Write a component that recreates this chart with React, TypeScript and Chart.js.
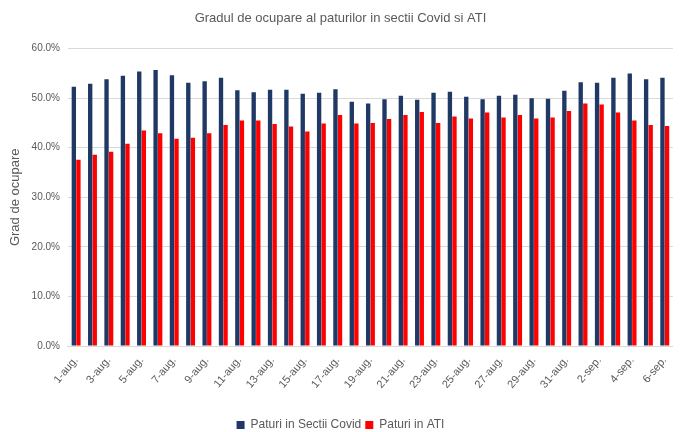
import React, { useEffect, useRef } from "react";
import { Chart, registerables } from "chart.js";

Chart.register(...registerables);

const days: string[] = [
  "1-aug.", "2-aug.", "3-aug.", "4-aug.", "5-aug.", "6-aug.", "7-aug.", "8-aug.", "9-aug.", "10-aug.",
  "11-aug.", "12-aug.", "13-aug.", "14-aug.", "15-aug.", "16-aug.", "17-aug.", "18-aug.", "19-aug.", "20-aug.",
  "21-aug.", "22-aug.", "23-aug.", "24-aug.", "25-aug.", "26-aug.", "27-aug.", "28-aug.", "29-aug.", "30-aug.",
  "31-aug.", "1-sep.", "2-sep.", "3-sep.", "4-sep.", "5-sep.", "6-sep.",
];

const covidBeds: number[] = [
  52.3, 52.9, 53.8, 54.5, 55.4, 55.7, 54.6, 53.1, 53.4, 54.1,
  51.6, 51.2, 51.7, 51.7, 50.9, 51.1, 51.8, 49.3, 48.9, 49.8,
  50.5, 49.7, 51.1, 51.3, 50.3, 49.8, 50.5, 50.7, 50.0, 49.9,
  51.5, 53.2, 53.1, 54.1, 55.0, 53.8, 54.1,
];

const atiBeds: number[] = [
  37.6, 38.6, 39.2, 40.8, 43.5, 42.9, 41.8, 42.0, 42.9, 44.6,
  45.5, 45.5, 44.8, 44.3, 43.3, 44.9, 46.6, 44.9, 45.0, 45.8,
  46.6, 47.2, 45.0, 46.3, 45.9, 47.1, 46.1, 46.6, 45.9, 46.1,
  47.4, 48.9, 48.7, 47.1, 45.5, 44.6, 44.4,
];

const yTicks: number[] = [0, 10, 20, 30, 40, 50, 60];

const FONT = "'Liberation Sans', 'DejaVu Sans', sans-serif";
const TEXT = "#595959";

export default function App() {
  const ref = useRef<HTMLCanvasElement | null>(null);

  useEffect(() => {
    if (!ref.current) return;
    const chart = new Chart(ref.current, {
      type: "bar",
      data: {
        labels: days,
        datasets: [
          {
            label: "Paturi in Sectii Covid",
            data: covidBeds,
            backgroundColor: "#1F3864",
            borderWidth: 0,
            barPercentage: 0.95,
            categoryPercentage: 0.56,
          },
          {
            label: "Paturi in ATI",
            data: atiBeds,
            backgroundColor: "#FF0000",
            borderWidth: 0,
            barPercentage: 0.95,
            categoryPercentage: 0.56,
          },
        ],
      },
      options: {
        responsive: false,
        animation: false,
        layout: { padding: { left: 8, right: 10, top: 6, bottom: -9 } },
        plugins: {
          title: {
            display: true,
            text: "Gradul de ocupare al paturilor in sectii Covid si ATI",
            color: TEXT,
            font: { family: FONT, size: 13, weight: "normal" },
            padding: { top: 5, bottom: 22 },
          },
          legend: {
            position: "bottom",
            labels: {
              color: TEXT,
              font: { family: FONT, size: 12 },
              boxWidth: 8,
              boxHeight: 8,
              padding: 4,
            },
          },
          tooltip: { enabled: false },
        },
        scales: {
          x: {
            grid: { display: false, drawTicks: false },
            border: { color: "#D9D9D9" },
            afterFit: (scale: any) => {
              scale.height = 69;
            },
            ticks: {
              autoSkip: false,
              maxRotation: 50,
              minRotation: 50,
              color: TEXT,
              font: { family: FONT, size: 11 },
              padding: 8,
              callback: (_v: any, i: number) => (i % 2 === 0 ? days[i] : ""),
            },
          },
          y: {
            min: 0,
            max: 60,
            afterBuildTicks: (scale: any) => {
              scale.ticks = yTicks.map((v) => ({ value: v }));
            },
            grid: { color: "#D9D9D9", drawTicks: false },
            border: { display: false },
            title: {
              display: true,
              text: "Grad de ocupare",
              color: TEXT,
              font: { family: FONT, size: 13 },
              padding: { top: 0, bottom: 0 },
            },
            ticks: {
              color: TEXT,
              font: { family: FONT, size: 10 },
              padding: 8,
              callback: (v: any) => Number(v).toFixed(1) + "%",
            },
          },
        },
      },
    });
    return () => chart.destroy();
  }, []);

  return (
    <div style={{ position: "fixed", left: 0, top: 0, width: 683, height: 432, background: "#fff" }}>
      <canvas ref={ref} width={683} height={432} />
    </div>
  );
}
